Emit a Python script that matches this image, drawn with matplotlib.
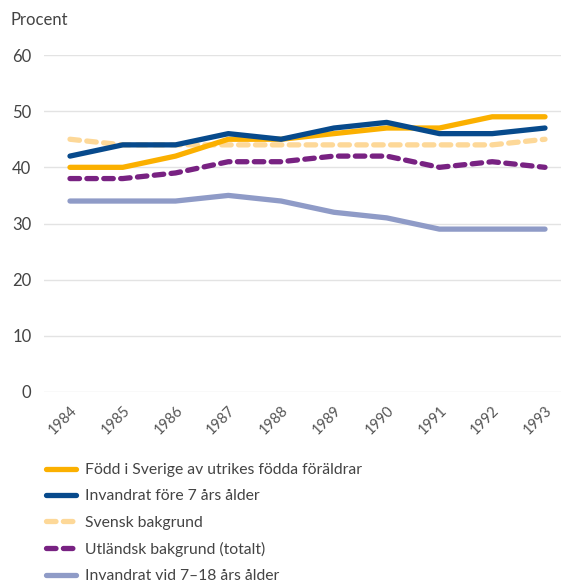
import matplotlib
matplotlib.use("Agg")
from matplotlib import pyplot as plt

plt.rcParams['font.family'] = ['Lato', 'DejaVu Sans']

years = [1984, 1985, 1986, 1987, 1988, 1989, 1990, 1991, 1992, 1993]
fodd_sverige = [40, 40, 42, 45, 45, 46, 47, 47, 49, 49]
fore_7 = [42, 44, 44, 46, 45, 47, 48, 46, 46, 47]
svensk = [45, 44, 44, 44, 44, 44, 44, 44, 44, 45]
utlandsk = [38, 38, 39, 41, 41, 42, 42, 40, 41, 40]
vid_7_18 = [34, 34, 34, 35, 34, 32, 31, 29, 29, 29]

labels = ['Född i Sverige av utrikes födda föräldrar',
          'Invandrat före 7 års ålder',
          'Svensk bakgrund',
          'Utländsk bakgrund (totalt)',
          'Invandrat vid 7–18 års ålder']

fig = plt.figure(figsize=(5.61, 5.83), dpi=100)
ax = fig.add_axes([44 / 561, 1 - 392 / 583, 1 - 44 / 561, (392 - 55) / 583])

lw = 3.8
ax.plot(years, vid_7_18, color='#8f9bc7', lw=lw, solid_capstyle='round',
        solid_joinstyle='round', label=labels[4], zorder=3)
ax.plot(years, svensk, color='#fdd898', lw=lw, ls=(0, (1.8, 1.4)),
        dash_capstyle='round', label=labels[2], zorder=3)
ax.plot(years, utlandsk, color='#782282', lw=lw, ls=(0, (1.8, 1.4)),
        dash_capstyle='round', label=labels[3], zorder=3)
ax.plot(years, fodd_sverige, color='#fbb000', lw=lw, solid_capstyle='round',
        solid_joinstyle='round', label=labels[0], zorder=4)
ax.plot(years, fore_7, color='#074a8c', lw=lw, solid_capstyle='round',
        solid_joinstyle='round', label=labels[1], zorder=5)

ax.set_xlim(1984 - 26 / 52.8, 1993 + 16 / 52.8)
ax.set_ylim(0, 60)
ax.set_yticks([0, 10, 20, 30, 40, 50, 60])
ax.set_xticks(years)
ax.set_xticklabels([str(y) for y in years], rotation=45, ha='right',
                   rotation_mode='anchor', fontsize=10.5, color='#555555')
ax.tick_params(axis='y', labelsize=12, colors='#444444', length=0, pad=9)
ax.tick_params(axis='x', length=0, pad=8)
ax.grid(axis='y', color='#e3e3e3', lw=1)
ax.set_axisbelow(True)
for s in ax.spines.values():
    s.set_visible(False)

fig.text(10 / 561, 1 - 20 / 583, 'Procent', fontsize=12, color='#444444',
         va='center', ha='left')

h, l = ax.get_legend_handles_labels()
order = [labels.index(x) for x in l]
pairs = sorted(zip(order, h, l))
fig.legend([p[1] for p in pairs], [p[2] for p in pairs], loc='upper left',
           bbox_to_anchor=(32 / 561, 1 - 449 / 583), frameon=False,
           fontsize=11.3, handlelength=1.9, labelspacing=0.78,
           handletextpad=0.55, labelcolor='#444444')

fig.savefig('out.png', dpi=100)
